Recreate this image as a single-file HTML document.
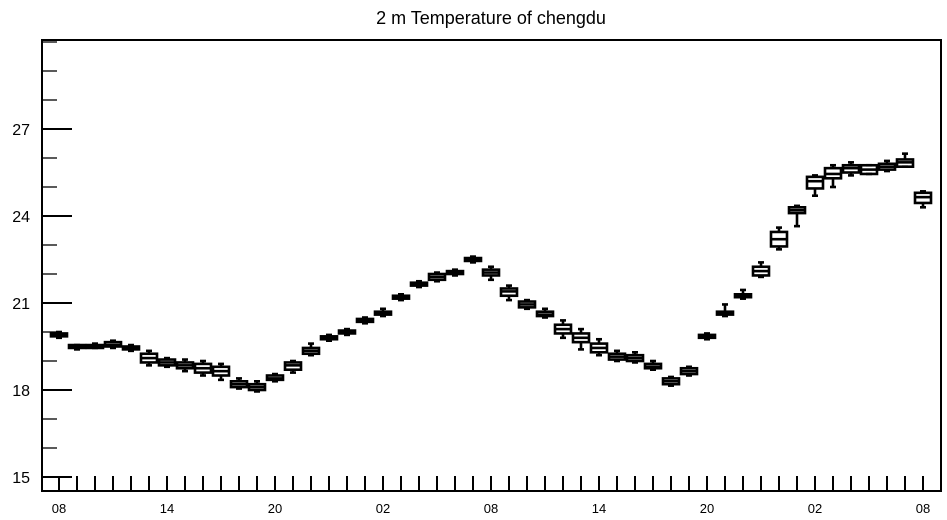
<!DOCTYPE html>
<html><head><meta charset="utf-8"><style>
body{margin:0;background:#fff;}
svg{display:block;font-family:"Liberation Sans",sans-serif;}
</style></head><body>
<svg id="chart" width="947" height="520" viewBox="0 0 947 520" xmlns="http://www.w3.org/2000/svg">
<text x="491" y="24" text-anchor="middle" font-size="18">2 m Temperature of chengdu</text>
<rect x="42" y="40" width="899" height="451" fill="none" stroke="#000" stroke-width="2"/>
<g id="axes"></g>
<g id="boxes"></g>
</svg>
<script>
const hours = [0,1,2,3,4,5,6,7,8,9,10,11,12,13,14,15,16,17,18,19,20,21,22,23,24,25,26,27,28,29,30,31,32,33,34,35,36,37,38,39,40,41,42,43,44,45,46,47,48];
const medians = [19.9,19.5,19.5,19.55,19.45,19.1,18.95,18.85,18.75,18.65,18.2,18.1,18.4,18.85,19.35,19.8,20.0,20.4,20.65,21.2,21.65,21.9,22.05,22.5,22.05,21.4,20.95,20.6,20.1,19.8,19.45,19.15,19.1,18.8,18.3,18.65,19.85,20.65,21.25,22.1,23.2,24.2,25.2,25.45,25.65,25.6,25.7,25.85,24.65];
const q1s = [19.85,19.45,19.45,19.5,19.4,18.95,18.85,18.75,18.6,18.5,18.1,18.0,18.35,18.7,19.25,19.75,19.95,20.35,20.6,21.15,21.6,21.8,22.0,22.45,21.95,21.25,20.85,20.55,19.95,19.65,19.3,19.05,19.0,18.75,18.2,18.55,19.8,20.6,21.2,21.95,22.95,24.1,24.95,25.3,25.5,25.45,25.6,25.7,24.45];
const q3s = [19.95,19.55,19.55,19.65,19.5,19.25,19.05,18.95,18.9,18.8,18.3,18.2,18.5,18.95,19.45,19.85,20.05,20.45,20.7,21.25,21.7,22.0,22.1,22.55,22.15,21.5,21.05,20.7,20.25,19.95,19.6,19.25,19.2,18.9,18.4,18.75,19.9,20.7,21.3,22.25,23.45,24.3,25.35,25.65,25.75,25.75,25.8,25.95,24.8];
const mins = [19.8,19.4,19.45,19.45,19.35,18.85,18.8,18.65,18.5,18.35,18.05,17.95,18.3,18.6,19.2,19.7,19.9,20.3,20.55,21.1,21.55,21.75,21.95,22.4,21.8,21.1,20.8,20.5,19.8,19.4,19.2,19.0,18.95,18.7,18.15,18.5,19.75,20.55,21.15,21.9,22.85,23.65,24.7,25.0,25.4,25.45,25.55,25.7,24.3];
const maxs = [20.0,19.55,19.6,19.7,19.55,19.35,19.1,19.05,19.0,18.9,18.4,18.3,18.55,19.0,19.6,19.9,20.1,20.5,20.8,21.3,21.75,22.05,22.15,22.6,22.25,21.6,21.1,20.8,20.4,20.1,19.75,19.35,19.3,19.0,18.45,18.8,19.95,20.95,21.45,22.4,23.6,24.35,25.4,25.75,25.85,25.75,25.9,26.15,24.85];
const yTicks = [15,18,21,24,27];
const xLabels = ["08","14","20","02","08","14","20","02","08"];

const NS="http://www.w3.org/2000/svg";
const X0=59, PXH=18.0, Y15=477, PXD=29;
function xs(h){return X0+h*PXH;}
function ys(v){return Y15-(v-15)*PXD;}
function mk(tag,attrs,parent){const e=document.createElementNS(NS,tag);for(const k in attrs)e.setAttribute(k,attrs[k]);parent.appendChild(e);return e;}
const axes=document.getElementById('axes');
for(let v=15;v<=30;v++){
  const major=yTicks.includes(v);
  const t=mk('line',{x1:42,x2:major?72:57,y1:ys(v),y2:ys(v),stroke:'#000','stroke-width':major?2:1.3},axes);
  
  
}
yTicks.forEach(v=>{
  const t=mk('text',{x:30,y:ys(v)+6,'text-anchor':'end','font-size':16},axes);
  t.textContent=v;
  
  
});
hours.forEach(h=>{
  const t=mk('line',{x1:xs(h),x2:xs(h),y1:491,y2:476,stroke:'#000','stroke-width':2},axes);
  
  
});
xLabels.forEach((l,i)=>{
  const t=mk('text',{x:xs(i*6),y:513,'text-anchor':'middle','font-size':13},axes);
  t.textContent=l;
  
  
});
const boxes=document.getElementById('boxes');
hours.forEach((h,i)=>{
  const g=mk('g',{stroke:'#000','stroke-width':2.6,fill:'none'},boxes);
  
  
  const x=xs(h), w=16;
  mk('line',{x1:x,x2:x,y1:ys(maxs[i]),y2:ys(q3s[i])},g);
  mk('line',{x1:x,x2:x,y1:ys(q1s[i]),y2:ys(mins[i])},g);
  mk('line',{x1:x-3,x2:x+3,y1:ys(maxs[i]),y2:ys(maxs[i])},g);
  mk('line',{x1:x-3,x2:x+3,y1:ys(mins[i]),y2:ys(mins[i])},g);
  const top=ys(q3s[i]), bot=ys(q1s[i]);
  mk('rect',{x:x-w/2,y:top,width:w,height:Math.max(bot-top,1)},g);
  mk('line',{x1:x-w/2,x2:x+w/2,y1:ys(medians[i]),y2:ys(medians[i])},g);
});
</script>
</body></html>
